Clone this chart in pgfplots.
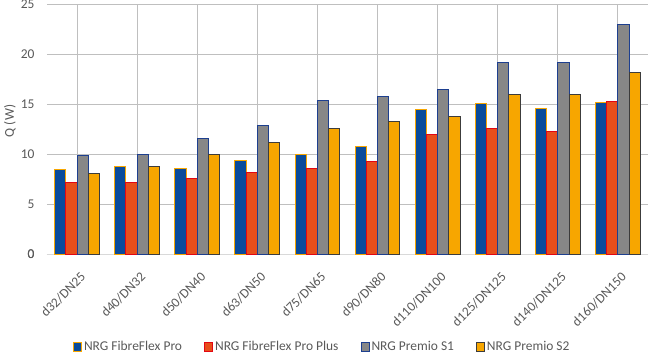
\documentclass[border=0pt]{standalone}
\usepackage{pgfplots}
\pgfplotsset{compat=1.18}
\usepackage{fontspec}
\setmainfont{Carlito}
\definecolor{cblue}{HTML}{0A4B9B}
\definecolor{cred}{HTML}{E84E1B}
\definecolor{cgray}{HTML}{878787}
\definecolor{corange}{HTML}{F7A600}
\definecolor{bred}{HTML}{E30613}
\definecolor{bnavy}{HTML}{1D3F8F}
\definecolor{bdark}{HTML}{3C3C3C}
\definecolor{txt}{HTML}{595959}
\definecolor{grid}{HTML}{D9D9D9}
\begin{document}
\begin{tikzpicture}
\begin{axis}[
  scale only axis,
  width=601bp, height=250bp,
  ybar=0pt, bar width=11.2bp,
  xmin=-0.5, xmax=9.5,
  ymin=0, ymax=25,
  ytick={0,5,10,15,20,25},
  xtick={0,1,2,3,4,5,6,7,8,9},
  xticklabels={d32/DN25,d40/DN32,d50/DN40,d63/DN50,d75/DN65,d90/DN80,d110/DN100,d125/DN125,d140/DN125,d160/DN150},
  major tick length=0pt,
  axis line style={draw=none},
  axis x line*=bottom,
  ymajorgrids, grid style={grid, line width=1bp},
  extra y ticks={0}, extra y tick style={grid style={grid, line width=1bp}},
  tick label style={font=\fontsize{13.5}{15}\selectfont, text=txt},
  yticklabel style={xshift=-9bp},
  xticklabel style={rotate=45, anchor=east, yshift=-19bp, xshift=-7bp},
  ylabel={Q (W)},
  ylabel style={at={(axis description cs:-0.0616,0.532)}, anchor=center, font=\fontsize{13.5}{15}\selectfont, text=txt},
  /pgf/number format/assume math mode=true,
  legend columns=4,
  legend style={at={(0.458,-0.372)}, anchor=center, draw=none, fill=none,
    font=\fontsize{13.5}{15}\selectfont, text=txt,
    /tikz/every even column/.append style={column sep=20bp}},
  legend image code/.code={\draw[#1, line width=1bp] (0bp,-4bp) rectangle (8bp,4bp);},
  clip=false,
]
\addplot[fill=cblue, draw=corange, line width=1bp] coordinates {
(0,8.5) (1,8.8) (2,8.6) (3,9.4) (4,10.0) (5,10.8) (6,14.5) (7,15.1) (8,14.6) (9,15.2)};
\addplot[fill=cred, draw=bred, line width=1bp] coordinates {
(0,7.15) (1,7.2) (2,7.55) (3,8.2) (4,8.55) (5,9.3) (6,12.0) (7,12.6) (8,12.3) (9,15.3)};
\addplot[fill=cgray, draw=bnavy, line width=1bp] coordinates {
(0,9.85) (1,10.0) (2,11.55) (3,12.9) (4,15.35) (5,15.75) (6,16.5) (7,19.2) (8,19.2) (9,22.95)};
\addplot[fill=corange, draw=bdark, line width=1bp] coordinates {
(0,8.05) (1,8.75) (2,10.0) (3,11.15) (4,12.6) (5,13.25) (6,13.75) (7,15.95) (8,15.95) (9,18.15)};
\legend{NRG FibreFlex Pro, NRG FibreFlex Pro Plus, NRG Premio S1, NRG Premio S2}
\coordinate (bl) at (rel axis cs:0,0);
\coordinate (tr) at (rel axis cs:1,1);
\end{axis}
\pgfresetboundingbox
\path ([xshift=-47bp,yshift=-99bp]bl) rectangle ([xshift=2bp,yshift=4bp]tr);
\end{tikzpicture}
\end{document}
